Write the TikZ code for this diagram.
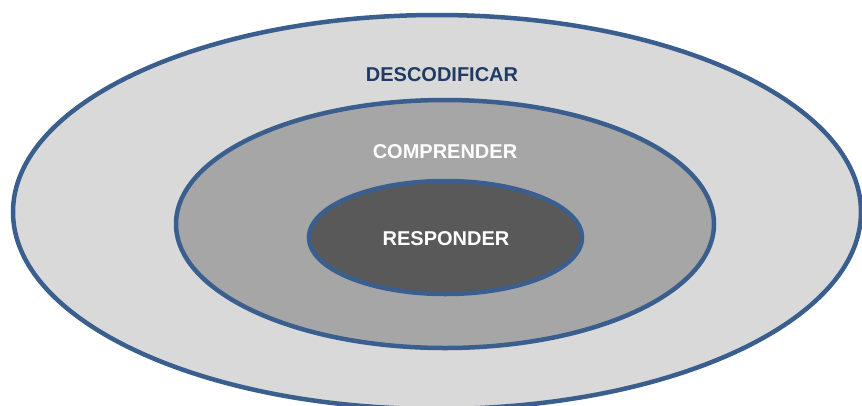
\documentclass[tikz,border=0pt]{standalone}
\usepackage{fontspec}
\setmainfont{Liberation Sans}
\usetikzlibrary{shapes.geometric}
\definecolor{rim}{HTML}{3A5F8F}
\definecolor{titleblue}{HTML}{1F3B63}
\begin{document}
\begin{tikzpicture}
			[x=1pt, y=-1pt, ring/.style ={ellipse, draw=rim, line width=4.5pt, inner sep=0pt},
			label/.style ={font=\fontsize{20}{22}\selectfont\bfseries, inner sep=0pt}]
			\useasboundingbox (0,0) rectangle (862,405);
			\node[ring, fill=black!15, minimum width=848pt, minimum height=394pt] (outer) at (437,212) {};
			\node[ring, fill=black!35, minimum width=538pt, minimum height=248pt] (middle) at (445,224) {};
			\node[ring, fill=black!65, minimum width=273pt, minimum height=113pt] (inner) at (445.5,237.5) {};
			\node[label, text=titleblue] (decode) at (442,74.5) {DESCODIFICAR};
			\node[label, text=white] (grasp) at (445,152) {COMPRENDER};
			\node[label, text=white] (answer) at (446,239) {RESPONDER};
		\end{tikzpicture}
\end{document}
